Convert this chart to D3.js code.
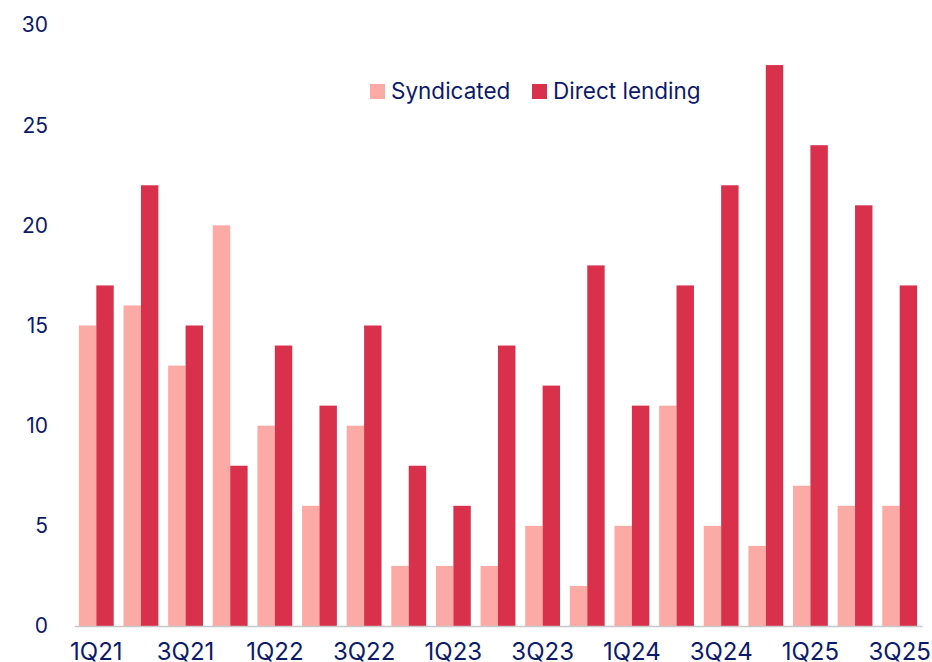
<!DOCTYPE html>
<html>
<head>
<meta charset="utf-8">
<script src="https://cdn.jsdelivr.net/npm/d3@7"></script>
<style>
  body { margin: 0; background: #fff; }
  svg text { font-family: Inter, "Noto Sans", sans-serif; fill: #0c1a6b; }
</style>
</head>
<body>
<div id="chart"></div>
<script>
// quarters 1Q21 .. 3Q25
var quarters = ["1Q21","2Q21","3Q21","4Q21","1Q22","2Q22","3Q22","4Q22","1Q23","2Q23","3Q23","4Q23","1Q24","2Q24","3Q24","4Q24","1Q25","2Q25","3Q25"];
var syndicated = [15, 16, 13, 20, 10, 6, 10, 3, 3, 3, 5, 2, 5, 11, 5, 4, 7, 6, 6];
var directLending = [17, 22, 15, 8, 14, 11, 15, 8, 6, 14, 12, 18, 11, 17, 22, 28, 24, 21, 17];
var seriesNames = ["Syndicated", "Direct lending"];
var yTicks = [0, 5, 10, 15, 20, 25, 30];

var colors = {"Syndicated": "#fcaaa5", "Direct lending": "#d9304b"};

var W = 932, H = 662;
var margin = {top: 25, right: 10, bottom: 36, left: 74};
var width = W - margin.left - margin.right;
var height = H - margin.top - margin.bottom;

var svg = d3.select("#chart").append("svg")
	.attr("width", W)
	.attr("height", H)
	.append("g")
	.attr("transform", "translate(" + margin.left + "," + margin.top + ")");

var x = d3.scaleBand()
	.domain(quarters)
	.range([0, width])
	.paddingInner(0.22)
	.paddingOuter(0.11);

var xSub = d3.scaleBand()
	.domain(seriesNames)
	.range([0, x.bandwidth()]);

var y = d3.scaleLinear()
	.domain([0, 30])
	.range([height, 0]);

// y tick labels (no axis line)
svg.append("g")
	.selectAll("text")
	.data(yTicks)
	.enter().append("text")
	.attr("x", -26)
	.attr("y", function(d) { return y(d); })
	.attr("dy", "0.35em")
	.attr("text-anchor", "end")
	.style("font-size", "21px")
	.text(function(d) { return d; });

// bars
var rows = quarters.map(function(q, i) {
	return {q: q, values: [
		{name: "Syndicated", v: syndicated[i]},
		{name: "Direct lending", v: directLending[i]}
	]};
});

var groups = svg.selectAll(".grp")
	.data(rows)
	.enter().append("g")
	.attr("class", "grp")
	.attr("transform", function(d) { return "translate(" + x(d.q) + ",0)"; });

groups.selectAll("rect")
	.data(function(d) { return d.values; })
	.enter().append("rect")
	.attr("x", function(d) { return xSub(d.name); })
	.attr("y", function(d) { return y(d.v); })
	.attr("width", xSub.bandwidth())
	.attr("height", function(d) { return height - y(d.v); })
	.style("fill", function(d) { return colors[d.name]; });

// x axis line + every other label
var xAxis = d3.axisBottom(x)
	.tickSize(0)
	.tickPadding(17)
	.tickFormat(function(d, i) { return i % 2 == 0 ? d : ""; });

var gx = svg.append("g")
	.attr("transform", "translate(0," + height + ")")
	.call(xAxis);
gx.select(".domain").attr("stroke", "#c8c8c8").attr("stroke-width", 1.5);
gx.selectAll("text")
	.style("font-size", "24px")
	.style("font-family", "Inter, 'Noto Sans', sans-serif")
	.attr("fill", "#0c1a6b");

// legend
var legendPos = [{name: "Syndicated", x: 296}, {name: "Direct lending", x: 458}];
var legend = svg.selectAll(".legend")
	.data(legendPos)
	.enter().append("g")
	.attr("class", "legend")
	.attr("transform", function(d) { return "translate(" + d.x + ",59)"; });

legend.append("rect")
	.attr("width", 15)
	.attr("height", 15)
	.style("fill", function(d) { return colors[d.name]; });

legend.append("text")
	.attr("x", 21)
	.attr("y", 7.5)
	.attr("dy", "0.35em")
	.style("font-size", "22.5px")
	.text(function(d) { return d.name; });
</script>
</body>
</html>
